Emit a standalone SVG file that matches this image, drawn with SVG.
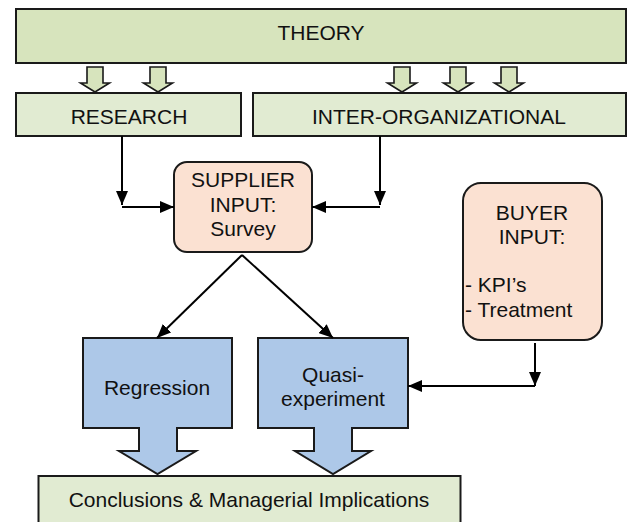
<svg xmlns="http://www.w3.org/2000/svg" width="632" height="522" viewBox="0 0 632 522">
<style>
  text { font-family: "Liberation Sans", Arial, sans-serif; font-size: 21px; fill: #111; }
  .c { text-anchor: middle; }
  .green { fill: #D7E4BD; stroke: #1a1a1a; stroke-width: 2; }
  .lgreen { fill: #E1EBD2; stroke: #1a1a1a; stroke-width: 2; }
  .peach { fill: #FBE1D2; stroke: #1a1a1a; stroke-width: 2; }
  .blue { fill: #ADC8E8; stroke: #1a1a1a; stroke-width: 2; }
  .smallarrow { fill: #D7E4BD; stroke: #1a1a1a; stroke-width: 1.6; }
  .conn { fill: none; stroke: #000; stroke-width: 2; }
</style>
<defs>
  <marker id="ah" viewBox="0 0 14 12" refX="14" refY="6" markerWidth="14" markerHeight="12" markerUnits="userSpaceOnUse" orient="auto">
    <path d="M0,0 L14,6 L0,12 Z" fill="#000"/>
  </marker>
  <path id="sa" d="M-8,0 H8 V16 H14.5 L0,25 L-14.5,16 H-8 Z"/>
</defs>

<g id="theory">
  <rect class="green" x="16" y="9" width="610" height="54"/>
  <text class="c" x="321" y="40">THEORY</text>
</g>

<g id="theory-arrows">
  <use href="#sa" class="smallarrow" x="95" y="67"/>
  <use href="#sa" class="smallarrow" x="158" y="67"/>
  <use href="#sa" class="smallarrow" x="402" y="67"/>
  <use href="#sa" class="smallarrow" x="458" y="67"/>
  <use href="#sa" class="smallarrow" x="509" y="67"/>
</g>

<g id="research">
  <rect class="lgreen" x="16" y="93" width="225" height="43"/>
  <text class="c" x="129" y="124">RESEARCH</text>
</g>

<g id="interorg">
  <rect class="lgreen" x="253" y="93" width="373" height="43"/>
  <text class="c" x="439" y="124">INTER-ORGANIZATIONAL</text>
</g>

<g id="supplier">
  <rect class="peach" x="174" y="162" width="138" height="90" rx="13" ry="13"/>
  <text class="c" x="243" y="187">SUPPLIER</text>
  <text class="c" x="243" y="212">INPUT:</text>
  <text class="c" x="243" y="236">Survey</text>
</g>

<g id="buyer">
  <rect class="peach" x="463" y="183" width="139" height="157" rx="18" ry="18"/>
  <text class="c" x="532" y="220">BUYER</text>
  <text class="c" x="532" y="244">INPUT:</text>
  <text x="465" y="292">- KPI’s</text>
  <text x="465" y="317">- Treatment</text>
</g>

<g id="regression">
  <path class="blue" d="M83,338 H232 V428 H177 V451 H196 L157.5,474 L119,451 H139 V428 H83 Z"/>
  <text class="c" x="157" y="395">Regression</text>
</g>

<g id="quasi">
  <path class="blue" d="M258,338 H408 V428 H352 V451 H371 L333,474 L295,451 H314 V428 H258 Z"/>
  <text class="c" x="333" y="382">Quasi-</text>
  <text class="c" x="333" y="406">experiment</text>
</g>

<g id="conclusions">
  <rect class="lgreen" x="38.5" y="476" width="422" height="60"/>
  <text class="c" x="249" y="507">Conclusions &amp; Managerial Implications</text>
</g>

<g id="connectors">
  <path class="conn" d="M122,136 V205" marker-end="url(#ah)"/>
  <path class="conn" d="M122,207 H174" marker-end="url(#ah)"/>
  <path class="conn" d="M380,136 V205" marker-end="url(#ah)"/>
  <path class="conn" d="M380,207 H312" marker-end="url(#ah)"/>
  <path class="conn" d="M242,255 L157,338" marker-end="url(#ah)"/>
  <path class="conn" d="M242,255 L333,338" marker-end="url(#ah)"/>
  <path class="conn" d="M535,343 V386" marker-end="url(#ah)"/>
  <path class="conn" d="M535,386 H408" marker-end="url(#ah)"/>
</g>
</svg>
